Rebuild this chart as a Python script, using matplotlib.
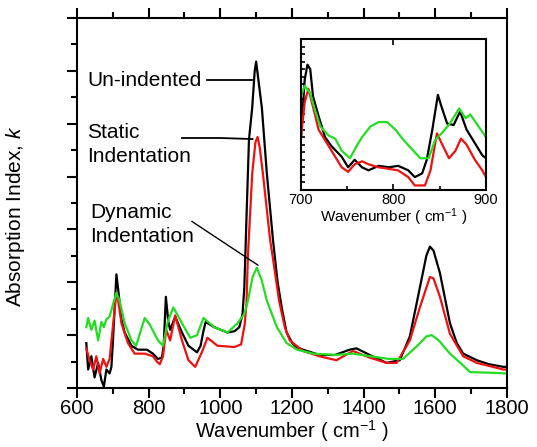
import numpy as np
import matplotlib.pyplot as plt
from matplotlib.ticker import MultipleLocator

plt.rcParams['font.family'] = ['Liberation Sans', 'DejaVu Sans']
plt.rcParams['mathtext.fontset'] = 'custom'
plt.rcParams['mathtext.rm'] = 'Liberation Sans'
plt.rcParams['mathtext.it'] = 'Liberation Sans:italic'

# main spectra (wavenumber, absorption index k, arbitrary units)
wn_black = [626, 631, 640, 649, 659, 668, 675, 682, 691, 696, 700, 705, 710, 716, 724, 733,
            752, 770, 795, 812, 826, 837, 842, 848, 855, 860, 874, 893, 911, 935, 945, 952,
            959, 983, 1020, 1040, 1053, 1062, 1067, 1070, 1074, 1080, 1089, 1096, 1100, 1105,
            1116, 1130, 1147, 1160, 1172, 1185, 1201, 1212, 1231, 1277, 1320, 1361, 1380,
            1417, 1464, 1501, 1529, 1557, 1575, 1585, 1595, 1613, 1641, 1660, 1678, 1716,
            1750, 1790, 1800]
k_black = [1.7, 0.7, 1.2, 0.4, 0.95, 0.3, 0.05, 0.7, 0.55, 0.8, 1.7, 3.0, 4.3, 3.6, 2.6, 2.1,
           1.6, 1.45, 1.45, 1.3, 1.1, 1.15, 1.6, 3.45, 2.5, 2.2, 2.7, 2.1, 1.6, 1.35, 1.6, 2.1,
           2.5, 2.3, 2.1, 2.15, 2.3, 2.8, 3.8, 5.1, 6.85, 9.4, 10.6, 12.0, 12.35, 11.8,
           10.6, 8.1, 5.6, 4.0, 3.0, 2.1, 1.7, 1.55, 1.45, 1.25, 1.25, 1.45, 1.5,
           1.25, 0.95, 1.05, 1.95, 3.8, 5.0, 5.35, 5.2, 4.35, 2.45, 1.7, 1.3, 1.05,
           0.9, 0.8, 0.8]

wn_red = [626, 635, 645, 654, 663, 673, 682, 691, 700, 710, 714, 724, 742, 761, 789, 812,
          823, 831, 840, 849, 860, 874, 893, 911, 930, 950, 964, 992, 1039, 1058, 1068, 1073,
          1077, 1089, 1098, 1104, 1110, 1119, 1139, 1147, 1164, 1180, 1194, 1231, 1277, 1324,
          1370, 1417, 1464, 1492, 1529, 1557, 1585, 1595, 1613, 1641, 1678, 1716, 1790, 1800]
k_red = [1.5, 1.05, 0.7, 1.2, 0.55, 1.1, 0.8, 1.1, 2.3, 3.6, 3.4, 2.45, 1.7, 1.3, 1.3, 1.2,
         1.0, 0.9, 1.2, 2.2, 1.8, 2.75, 1.8, 1.05, 0.8, 1.4, 1.9, 1.6, 1.55, 1.65, 2.4, 3.2,
         5.0, 8.1, 9.3, 9.5, 9.1, 8.1, 5.6, 4.9, 3.3, 2.3, 1.8, 1.4, 1.2, 1.05,
         1.4, 1.15, 0.95, 0.95, 1.8, 3.05, 4.2, 4.15, 3.45, 2.05, 1.2, 0.95, 0.7, 0.7]

wn_green = [626, 631, 640, 649, 659, 668, 675, 682, 691, 700, 710, 719, 733, 752, 765, 789,
            803, 826, 840, 854, 869, 893, 916, 935, 953, 983, 1020, 1048, 1067, 1077, 1090,
            1102, 1115, 1130, 1158, 1185, 1214, 1260, 1320, 1370, 1420, 1470, 1510, 1550,
            1575, 1590, 1610, 1641, 1670, 1697, 1750, 1800]
k_green = [2.3, 2.65, 2.2, 2.55, 1.8, 2.5, 2.3, 2.6, 2.7, 3.15, 3.6, 3.3, 2.45, 1.8, 1.6, 2.65,
           2.4, 1.8, 1.6, 2.55, 3.05, 2.45, 1.9, 2.0, 2.65, 2.3, 2.1, 2.45, 2.8, 3.3, 4.2,
           4.55, 4.1, 3.3, 2.3, 1.7, 1.45, 1.3, 1.25, 1.3, 1.2, 1.1, 1.1, 1.6,
           1.95, 2.0, 1.8, 1.3, 0.95, 0.6, 0.58, 0.55]

# inset (700-900 cm-1), normalised scale
in_wn_black = [700, 704, 707, 710, 713, 719, 726, 733, 744, 751, 758, 766, 773, 784, 795, 805,
               816, 823, 831, 836, 842, 848, 852, 858, 865, 872, 879, 888, 896, 900]
in_k_black = [0.35, 0.73, 0.83, 0.80, 0.62, 0.49, 0.35, 0.29, 0.22, 0.15, 0.20, 0.15, 0.13,
              0.16, 0.15, 0.16, 0.13, 0.085, 0.11, 0.20, 0.40, 0.63, 0.55, 0.44, 0.43, 0.52,
              0.40, 0.31, 0.23, 0.21]
in_wn_red = [700, 704, 708, 713, 719, 726, 733, 744, 751, 758, 766, 773, 784, 795, 805, 816,
             823, 834, 840, 847, 852, 860, 867, 873, 879, 888, 896, 900]
in_k_red = [0.35, 0.58, 0.67, 0.55, 0.40, 0.33, 0.26, 0.15, 0.12, 0.17, 0.19, 0.17, 0.15,
            0.14, 0.13, 0.085, 0.03, 0.03, 0.13, 0.375, 0.31, 0.21, 0.26, 0.34, 0.30, 0.20,
            0.13, 0.085]
in_wn_green = [700, 704, 710, 715, 721, 730, 737, 744, 753, 760, 766, 775, 784, 793, 802, 811,
               820, 829, 838, 845, 852, 861, 871, 878, 883, 892, 900]
in_k_green = [0.62, 0.69, 0.64, 0.53, 0.42, 0.36, 0.34, 0.26, 0.21, 0.29, 0.35, 0.42, 0.45,
              0.45, 0.40, 0.33, 0.27, 0.21, 0.21, 0.33, 0.375, 0.44, 0.54, 0.475, 0.50,
              0.42, 0.35]

BLACK = 'black'
RED = '#ee1111'
GREEN = '#22dd22'

fig = plt.figure(figsize=(5.37, 4.47), dpi=100)
ax = fig.add_axes([0.1434, 0.132, 0.8006, 0.8277])

ax.plot(wn_black, k_black, color=BLACK, lw=1.6)
ax.plot(wn_red, k_red, color=RED, lw=1.6)
ax.plot(wn_green, k_green, color=GREEN, lw=1.6)

ax.set_xlim(600, 1800)
ax.set_ylim(0, 14)
ax.xaxis.set_major_locator(MultipleLocator(200))
ax.xaxis.set_minor_locator(MultipleLocator(100))
ax.yaxis.set_major_locator(MultipleLocator(2))
ax.yaxis.set_minor_locator(MultipleLocator(1))
ax.tick_params(which='both', direction='out', top=True, right=False, width=1.5,
               labelsize=14.5)
ax.tick_params(which='major', length=7)
ax.tick_params(which='minor', length=4)
ax.tick_params(axis='y', labelleft=False)
ax.tick_params(axis='x', pad=1)
for s in ax.spines.values():
    s.set_linewidth(1.5)

ax.set_xlabel('Wavenumber ( cm$^{-1}$ )', fontsize=14.5, labelpad=0)
ax.set_ylabel('Absorption Index, $k$', fontsize=15)
ax.yaxis.set_label_coords(-0.117, 0.465)

# labels with leader lines
ax.text(628, 11.65, 'Un-indented', fontsize=15, va='center', ha='left')
ax.plot([963, 1088], [11.65, 11.65], color='black', lw=1.3)
ax.text(628, 9.2, 'Static\nIndentation', fontsize=15, va='center', ha='left', linespacing=1.35)
ax.plot([893, 1000, 1090], [9.46, 9.46, 9.42], color='black', lw=1.3)
ax.text(636, 6.2, 'Dynamic\nIndentation', fontsize=15, va='center', ha='left', linespacing=1.35)
ax.plot([921, 1105], [6.3, 4.65], color='black', lw=1.0)

# inset
axi = fig.add_axes([0.5605, 0.575, 0.3445, 0.3378])
axi.plot(in_wn_black, in_k_black, color=BLACK, lw=1.6)
axi.plot(in_wn_red, in_k_red, color=RED, lw=1.6)
axi.plot(in_wn_green, in_k_green, color=GREEN, lw=1.6)
axi.set_xlim(700, 900)
axi.set_ylim(0, 1)
axi.xaxis.set_major_locator(MultipleLocator(100))
axi.xaxis.set_minor_locator(MultipleLocator(50))
axi.yaxis.set_major_locator(MultipleLocator(0.05))
axi.tick_params(which='both', direction='in', top=True, width=1.2, labelsize=10.5, pad=2)
axi.tick_params(which='major', length=4)
axi.tick_params(which='minor', length=3, top=False)
axi.tick_params(axis='y', labelleft=False, length=3)
for s in axi.spines.values():
    s.set_linewidth(1.5)
axi.set_xlabel('Wavenumber ( cm$^{-1}$ )', fontsize=11, labelpad=0)

fig.savefig('out.png', dpi=100)
